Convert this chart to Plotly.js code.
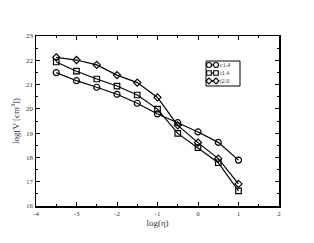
<!DOCTYPE html>
<html><head><meta charset="utf-8">
<script src="https://cdn.plot.ly/plotly-3.0.1.min.js"></script>
<style>html,body{margin:0;padding:0;background:#fff}</style>
</head><body><div id="plot" style="width:314px;height:243px"></div>
<script>
var logEta = [-3.5,-3,-2.5,-2,-1.5,-1,-0.5,0,0.5,1];
var c14 = [21.49,21.16,20.89,20.60,20.23,19.79,19.43,19.05,18.62,17.89];
var i14 = [21.93,21.55,21.23,20.94,20.57,19.99,18.99,18.40,17.78,16.62];
var i20 = [22.12,22.01,21.81,21.39,21.08,20.47,19.32,18.61,17.95,16.91];
var seriesNames = ['c1.4','i1.4','i2.0'];
var xTickVals = [-4,-3,-2,-1,0,1,2];
var xTickText = ['-4','-3','-2','-1','0','1','2'];
var yTickVals = [16,17,18,19,20,21,22,23];
var yTickText = ['16','17','18','19','20','21','22','23'];

var symbols = ['circle-open','square-open','diamond-open'];
var sizes = [6,5.5,5.5];
var data = [c14,i14,i20].map(function(y,i){
  return {x:logEta,y:y,name:seriesNames[i],type:'scatter',mode:'lines+markers',
    line:{color:'#000',width:1.2},
    marker:{symbol:symbols[i],size:sizes[i],color:'#000',line:{width:1.2,color:'#000'}},
    showlegend:false};
});

// custom compact legend (xmgrace style)
var L=36, T=36, W=243, H=170;
function px(x){return (x-L)/W;}
function py(y){return (T+H-y)/H;}
var shapes=[{type:'rect',xref:'paper',yref:'paper',x0:px(206),x1:px(240),y0:py(61),y1:py(86),line:{color:'#000',width:1},fillcolor:'rgba(0,0,0,0)'}];
var annotations=[];
var rowY=[65,73,81];
var m1=209, m2=216;
rowY.forEach(function(ry,i){
  shapes.push({type:'line',xref:'paper',yref:'paper',x0:px(m1),x1:px(m2),y0:py(ry),y1:py(ry),line:{color:'#000',width:1.2}});
  [m1,m2].forEach(function(mx){
    var s={xref:'paper',yref:'paper',xsizemode:'pixel',ysizemode:'pixel',xanchor:px(mx),yanchor:py(ry),line:{color:'#000',width:1.1},fillcolor:'#fff'};
    if(i===0){s.type='circle';s.x0=-2.5;s.x1=2.5;s.y0=-2.5;s.y1=2.5;}
    else if(i===1){s.type='rect';s.x0=-2.3;s.x1=2.3;s.y0=-2.3;s.y1=2.3;}
    else {s.type='path';s.path='M -3 0 L 0 3 L 3 0 L 0 -3 Z';}
    shapes.push(s);
  });
  annotations.push({xref:'paper',yref:'paper',x:px(218.5),y:py(ry),xanchor:'left',yanchor:'middle',showarrow:false,borderpad:0,
    text:seriesNames[i],font:{family:'Liberation Serif',size:6,color:'#333'}});
});

var axisCommon={showgrid:false,zeroline:false,showline:true,linecolor:'#000',linewidth:1.5,mirror:'allticks',
  ticks:'inside',ticklen:4,tickwidth:1,tickcolor:'#000',tickfont:{family:'Liberation Serif',size:7,color:'#333'}};
var layout={
  width:314,height:243,margin:{l:L,r:314-L-W,t:T,b:243-T-H},
  paper_bgcolor:'#fff',plot_bgcolor:'#fff',showlegend:false,
  xaxis:Object.assign({},axisCommon,{range:[-4,2],tickmode:'array',tickvals:xTickVals,ticktext:xTickText,
    minor:{dtick:0.5,ticks:'inside',ticklen:2,tickcolor:'#000'},
    title:{text:'log(η)',font:{family:'Liberation Serif',size:9,color:'#333'},standoff:3}}),
  yaxis:Object.assign({},axisCommon,{range:[16,23],tickmode:'array',tickvals:yTickVals,ticktext:yTickText,
    minor:{dtick:0.5,ticks:'inside',ticklen:2,tickcolor:'#000'},
    title:{text:'log(V [cm<sup>3</sup>])',font:{family:'Liberation Serif',size:9,color:'#333'},standoff:5}}),
  shapes:shapes,annotations:annotations
};
Plotly.newPlot('plot',data,layout,{staticPlot:true,displayModeBar:false});
</script></body></html>
